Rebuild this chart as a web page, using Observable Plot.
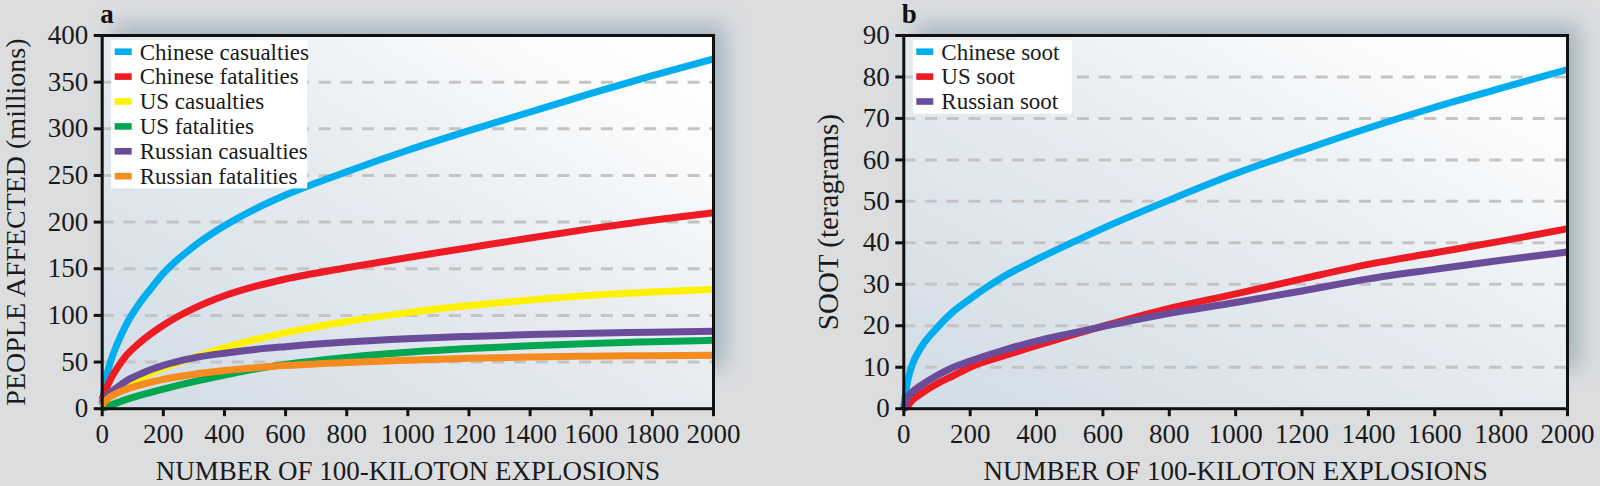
<!DOCTYPE html>
<html><head><meta charset="utf-8">
<script src="https://cdn.jsdelivr.net/npm/d3@7"></script>
<script src="https://cdn.jsdelivr.net/npm/@observablehq/plot@0.6"></script>
<style>
html,body{margin:0;padding:0;background:#dcdddf;}
#wrap{position:relative;width:1600px;height:486px;overflow:hidden;background:#dcdddf;}
#a,#b{position:absolute;top:0;}
#a{left:0;}#b{left:800px;}
svg{overflow:visible;}
</style></head><body><div id="wrap"><div id="a"></div><div id="b"></div></div>
<script>
// ---------- data ----------
const xTicks = [0, 200, 400, 600, 800, 1000, 1200, 1400, 1600, 1800, 2000];
const yTicksA = [0, 50, 100, 150, 200, 250, 300, 350, 400];
const gridA = [50, 100, 150, 200, 250, 300, 350];
const yTicksB = [0, 10, 20, 30, 40, 50, 60, 70, 80, 90];
const gridB = [10, 20, 30, 40, 50, 60, 70, 80];

const xA = [0, 10, 25, 50, 80, 120, 160, 200, 300, 400, 500, 600, 800, 1000, 1200, 1400, 1600, 1800, 2000];
const chineseCasualties = [4, 28, 48, 70, 91, 112, 129, 145, 174, 196, 214, 229, 254, 277, 298, 318, 338, 357, 375];
const chineseFatalities = [10, 19, 30, 44, 57.5, 70, 80.5, 89.5, 107.5, 121, 131, 139, 151, 162, 172.5, 183, 193, 202, 210];
const usCasualties      = [3, 7, 12.5, 19, 25.5, 32, 38, 43.5, 55, 65.5, 74, 81.5, 93.5, 103, 110.5, 116.5, 121.5, 125, 128];
const usFatalities      = [0, 1.5, 3.5, 6.5, 10, 14, 17.5, 21, 29, 36, 42.5, 47.5, 55, 60.5, 64.5, 67.5, 70, 71.8, 73.3];
const russianCasualties = [6, 11, 16.5, 23, 30, 36.5, 42, 46.5, 54.5, 59.5, 63.5, 66.5, 71.5, 75, 77.5, 79.5, 81, 82, 83];
const russianFatalities = [4, 8, 12.5, 17, 21, 25, 28.5, 31.5, 37, 41, 44, 46.3, 49.6, 52, 54, 55.4, 56.3, 56.8, 57.2];

const xB = [0, 10, 25, 50, 100, 150, 200, 300, 400, 500, 600, 800, 1000, 1200, 1400, 1600, 1800, 2000];
const chineseSoot = [0.5, 6, 10.5, 14.5, 19.5, 23.5, 26.5, 31.8, 36, 39.8, 43.5, 50.3, 56.7, 62.3, 67.7, 72.7, 77.3, 81.8];
const usSoot      = [0, 0.5, 2, 3.5, 6, 8, 10, 12.7, 15.2, 17.6, 19.9, 24.2, 27.7, 31.3, 34.8, 37.6, 40.4, 43.4];
const russianSoot = [0, 2.5, 4, 5.5, 8, 10, 11.5, 14.1, 16.3, 18.1, 19.8, 23, 25.6, 28.4, 31.3, 33.6, 35.8, 37.8];

const namesA = ["Chinese casualties", "Chinese fatalities", "US casualties", "US fatalities", "Russian casualties", "Russian fatalities"];
const colorsA = ["#00aeef", "#ed1c24", "#fff200", "#00a651", "#6b4c9a", "#f68b1f"];
const valuesA = [chineseCasualties, chineseFatalities, usCasualties, usFatalities, russianCasualties, russianFatalities];

const namesB = ["Chinese soot", "US soot", "Russian soot"];
const colorsB = ["#00aeef", "#ed1c24", "#6b4c9a"];
const valuesB = [chineseSoot, usSoot, russianSoot];

const xTitle = "NUMBER OF 100-KILOTON EXPLOSIONS";

// ---------- helpers ----------
function backdrop(id) {
  return (index, scales, values, dims) => {
    const {width, height, marginLeft, marginRight, marginTop, marginBottom} = dims;
    const w = width - marginLeft - marginRight, h = height - marginTop - marginBottom;
    const g = d3.create("svg:g");
    const defs = g.append("defs");
    const f = defs.append("filter").attr("id", id + "-blur")
      .attr("x", "-30%").attr("y", "-30%").attr("width", "160%").attr("height", "160%");
    f.append("feGaussianBlur").attr("stdDeviation", 11);
    const lg = defs.append("linearGradient").attr("id", id + "-grad")
      .attr("x1", 0).attr("y1", 1).attr("x2", 1).attr("y2", 0);
    lg.append("stop").attr("offset", 0).attr("stop-color", "#d1dce5");
    lg.append("stop").attr("offset", 0.5).attr("stop-color", "#e6ebf0");
    lg.append("stop").attr("offset", 0.85).attr("stop-color", "#fbfcfd");
    lg.append("stop").attr("offset", 1).attr("stop-color", "#ffffff");
    g.append("rect").attr("x", marginLeft + 12).attr("y", marginTop - 10)
      .attr("width", w).attr("height", h - 30)
      .attr("fill", "#8ea5b6").attr("opacity", 0.75).attr("filter", `url(#${id}-blur)`);
    g.append("rect").attr("x", marginLeft).attr("y", marginTop)
      .attr("width", w).attr("height", h).attr("fill", `url(#${id}-grad)`);
    return g.node();
  };
}

function legend(names, colors, boxWidth) {
  return (index, scales, values, dims) => {
    const L = dims.marginLeft, T = dims.marginTop;
    const rowH = 24.9;
    const g = d3.create("svg:g");
    g.append("rect").attr("x", L + 9.5).attr("y", T + 5)
      .attr("width", boxWidth).attr("height", names.length * rowH - 1).attr("fill", "#ffffff");
    names.forEach((n, i) => {
      const cy = T + 16.7 + i * rowH;
      g.append("rect").attr("x", L + 13).attr("y", cy - 3.3).attr("width", 17).attr("height", 6.6).attr("fill", colors[i]);
      g.append("text").attr("x", L + 38).attr("y", cy).attr("dy", "0.34em")
        .attr("text-anchor", "start").attr("font-size", 23).attr("fill", "#1a1a1a").text(n);
    });
    return g.node();
  };
}

function lines(xs, vals, colors) {
  return vals.map((v, i) => Plot.line(xs.map((x, j) => ({x, y: v[j]})), {
    x: "x", y: "y", stroke: colors[i], strokeWidth: 7, curve: "monotone-x",
    strokeLinecap: "butt", strokeLinejoin: "round"
  }));
}

function panel(opts) {
  return Plot.plot({
    width: 800, height: 486,
    marginLeft: opts.ml, marginRight: opts.mr, marginTop: 35, marginBottom: 77.8,
    x: {domain: [0, 2000]},
    y: {domain: opts.ydomain},
    style: {fontFamily: "'Liberation Serif', 'DejaVu Serif', serif", background: "transparent", color: "#1a1a1a", overflow: "visible"},
    marks: [
      backdrop(opts.id),
      Plot.gridY(opts.grid, {stroke: "#c4c4c4", strokeOpacity: 1, strokeWidth: 3, strokeDasharray: "12,9.7"}),
      ...lines(opts.xs, opts.vals, opts.colors),
      legend(opts.names, opts.colors, opts.boxWidth),
      Plot.frame({stroke: "#111", strokeWidth: 3}),
      Plot.axisX(xTicks, {tickSize: 8, tickPadding: 7, fontSize: 27, strokeWidth: 3, stroke: "#111",
        tickFormat: d => String(d), label: null}),
      Plot.axisY(opts.yticks, {tickSize: 8, tickPadding: 6, fontSize: 27, strokeWidth: 3, stroke: "#111",
        tickFormat: d => String(d), label: null}),
      Plot.text([opts.letter], {frameAnchor: "top-left", dx: -2, dy: -13, lineAnchor: "bottom", textAnchor: "start",
        fontSize: 27, fontWeight: "bold", fill: "#111"}),
      Plot.text([xTitle], {frameAnchor: "bottom", dy: 71, lineAnchor: "bottom",
        fontSize: 27, fill: "#1a1a1a"}),
      Plot.text([opts.ylabel], {frameAnchor: "left", dx: opts.ydx, rotate: -90, lineAnchor: "bottom",
        textAnchor: "middle", fontSize: opts.yfs, fill: "#1a1a1a"})
    ]
  });
}

document.getElementById("a").append(panel({
  id: "pa", ml: 101.7, mr: 87, ydomain: [0, 400], yticks: yTicksA, grid: gridA,
  xs: xA, vals: valuesA, colors: colorsA, names: namesA, boxWidth: 196,
  letter: "a", ylabel: "PEOPLE AFFECTED (millions)", ydx: -77, yfs: 28
}));
document.getElementById("b").append(panel({
  id: "pb", ml: 103.3, mr: 33, ydomain: [0, 90], yticks: yTicksB, grid: gridB,
  xs: xB, vals: valuesB, colors: colorsB, names: namesB, boxWidth: 159,
  letter: "b", ylabel: "SOOT (teragrams)", ydx: -66, yfs: 29
}));
</script>
</body></html>
